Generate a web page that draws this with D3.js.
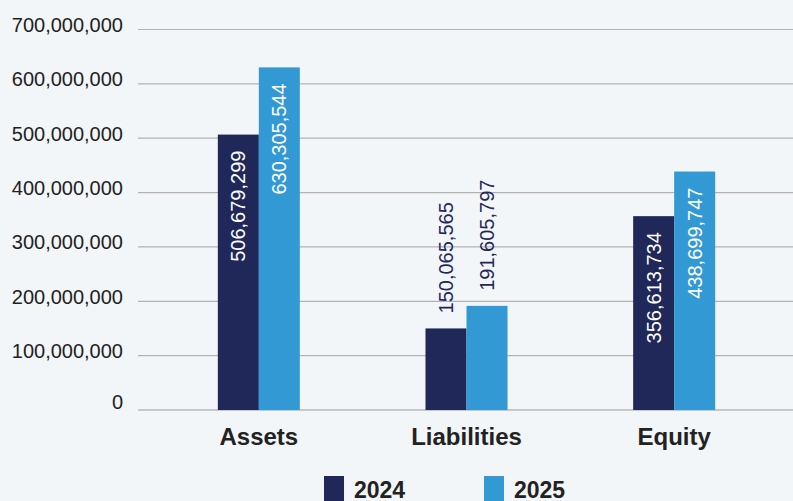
<!DOCTYPE html>
<html>
<head>
<meta charset="utf-8">
<script src="https://cdn.jsdelivr.net/npm/d3@7"></script>
<style>
	html, body { margin: 0; padding: 0; background: #f3f6f8; }
	svg { display: block; font-family: "Liberation Sans", Arial, Helvetica, sans-serif; }
</style>
</head>
<body>
<svg id="chart" width="793" height="501"></svg>
<script>

var categories = ["Assets", "Liabilities", "Equity"];
var years = ["2024", "2025"];
var values2024 = [506679299, 150065565, 356613734];
var values2025 = [630305544, 191605797, 438699747];
var yTicks = [0, 100000000, 200000000, 300000000, 400000000, 500000000, 600000000, 700000000];
// labels that sit above the bar instead of inside it
var outsideLabels = ["Liabilities"];

var colors = { "2024": "#1f2859", "2025": "#3399d5" };

var svg = d3.select("#chart");

var width = 793,
	height = 501;

var y = d3.scaleLinear()
	.domain([0, 700000000])
	.range([410, 29.5]);

var x0 = d3.scaleBand()
	.domain(categories)
	.range([155, 778])
	.paddingInner(0.605)
	.paddingOuter(0.3025);

var x1 = d3.scaleBand()
	.domain(years)
	.range([0, x0.bandwidth()]);

var fmt = d3.format(",");

// gridlines + tick labels
var grid = svg.append("g").attr("class", "grid");

grid.selectAll(".gridline")
		.data(yTicks)
	.enter().append("line")
		.attr("x1", 138)
		.attr("x2", width)
		.attr("y1", function(d) { return y(d); })
		.attr("y2", function(d) { return y(d); })
		.attr("stroke", function(d) { return d == 0 ? "#c6c8ca" : "#b2b2b2"; })
		.attr("stroke-width", function(d) { return d == 0 ? 2 : 1.2; });

grid.selectAll(".ticklabel")
		.data(yTicks)
	.enter().append("text")
		.attr("x", 123)
		.attr("y", function(d) { return y(d) + (d == 0 ? -1 : 2.5); })
		.attr("text-anchor", "end")
		.style("font-size", "20px")
		.style("fill", "#222")
		.text(function(d) { return fmt(d); });

// bars
var data = categories.map(function(c, i) {
	return { cat: c, vals: [
		{ cat: c, year: "2024", v: values2024[i] },
		{ cat: c, year: "2025", v: values2025[i] }
	]};
});

var groups = svg.selectAll(".group")
		.data(data)
	.enter().append("g")
		.attr("transform", function(d) { return "translate(" + x0(d.cat) + ",0)"; });

groups.selectAll("rect")
		.data(function(d) { return d.vals; })
	.enter().append("rect")
		.attr("x", function(d) { return x1(d.year); })
		.attr("width", x1.bandwidth())
		.attr("y", function(d) { return y(d.v); })
		.attr("height", function(d) { return y(0) - y(d.v); })
		.style("fill", function(d) { return colors[d.year]; });

groups.selectAll(".val")
		.data(function(d) { return d.vals; })
	.enter().append("text")
		.attr("transform", function(d) {
			var cx = x1(d.year) + x1.bandwidth() / 2 + 7;
			var outside = outsideLabels.indexOf(d.cat) >= 0;
			var ty = outside ? y(d.v) - 15 : y(d.v) + 16;
			return "translate(" + cx + "," + ty + ") rotate(-90)";
		})
		.attr("text-anchor", function(d) { return outsideLabels.indexOf(d.cat) >= 0 ? "start" : "end"; })
		.style("font-size", "20px")
		.style("fill", function(d) { return outsideLabels.indexOf(d.cat) >= 0 ? "#1f2859" : "#fff"; })
		.text(function(d) { return fmt(d.v); });

// category labels
svg.selectAll(".cat")
		.data(categories)
	.enter().append("text")
		.attr("x", function(d) { return x0(d) + x0.bandwidth() / 2; })
		.attr("y", 444.5)
		.attr("text-anchor", "middle")
		.style("font-size", "24px")
		.style("font-weight", "bold")
		.style("fill", "#222")
		.text(function(d) { return d; });

// legend
var legendX = d3.scaleOrdinal().domain(years).range([324, 484]);

var legend = svg.selectAll(".legend")
		.data(years)
	.enter().append("g")
		.attr("transform", function(d) { return "translate(" + legendX(d) + ",476)"; });

legend.append("rect")
	.attr("width", 20)
	.attr("height", 26)
	.style("fill", function(d) { return colors[d]; });

legend.append("text")
	.attr("x", 30)
	.attr("y", 21.5)
	.style("font-size", "23px")
	.style("font-weight", "bold")
	.style("fill", "#222")
	.text(function(d) { return d; });

</script>
</body>
</html>
